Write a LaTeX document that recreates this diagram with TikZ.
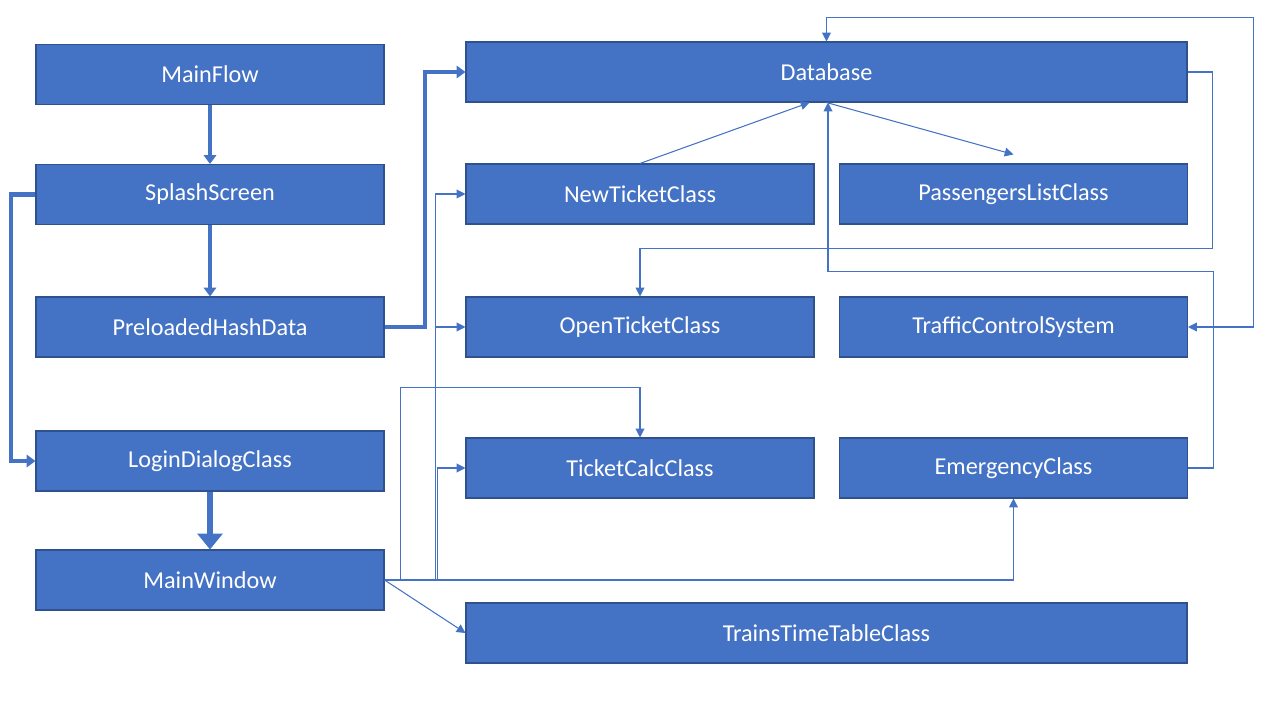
\documentclass[tikz,border=0pt]{standalone}
\usepackage{fontspec}
\setmainfont{Carlito}
\usepackage{xcolor}
\usepackage{tikz}
\usetikzlibrary{arrows.meta}

\definecolor{boxblue}{HTML}{4472C4}
\definecolor{boxedge}{HTML}{2F528F}

\begin{document}
\begin{tikzpicture}[
        box/.style={rectangle, draw=boxedge, line width=0.6pt, fill=boxblue, text=white, minimum width=6.96cm, minimum height=1.2cm, font=\fontsize{13.8}{16}\selectfont},
        widebox/.style={box, minimum width=14.42cm},
        arrow/.style={-{Triangle[length=5pt,width=7pt]}, boxblue, line width=2.3pt},
        bigarrow/.style={-{Triangle[length=9pt,width=14pt]}, boxblue, line width=3.6pt},
        link/.style={-{Triangle[length=5pt,width=5pt]}, boxblue, line width=0.6pt}
    ]
        \useasboundingbox (0,0) rectangle (25.6,14.4);

        % Start-up chain
        \node[box] (mainflow) at (4.2,12.91) {MainFlow};
        \node[box] (splash) at (4.2,10.51) {SplashScreen};
        \node[box] (preload) at (4.2,7.86) {PreloadedHashData};
        \node[box] (login) at (4.2,5.18) {LoginDialogClass};
        \node[box] (mainwin) at (4.2,2.8) {MainWindow};

        % Data
        \node[widebox] (db) at (16.53,12.96) {Database};

        % Classes
        \node[box] (newticket) at (12.8,10.52) {NewTicketClass};
        \node[box] (passengers) at (20.27,10.52) {PassengersListClass};
        \node[box] (openticket) at (12.8,7.86) {OpenTicketClass};
        \node[box] (traffic) at (20.27,7.86) {TrafficControlSystem};
        \node[box] (ticketcalc) at (12.8,5.04) {TicketCalcClass};
        \node[box] (emergency) at (20.27,5.04) {EmergencyClass};
        \node[widebox] (trains) at (16.53,1.74) {TrainsTimeTableClass};

        % Thick arrows
        \draw[arrow] (mainflow) -- (splash);
        \draw[arrow] (splash) -- (preload);
        \draw[arrow] (splash.west) -- ++(-0.48,0) |- (login.west);
        \draw[arrow] (preload.east) -- ++(0.8,0) |- (db.west);
        \draw[bigarrow] (login) -- (mainwin);

        % Database links
        \draw[link] (newticket.north) -- ([xshift=-0.34cm]db.south);
        \draw[link] (db.south) -- ([yshift=0.18cm]passengers.north);
        \draw[link] (db.east) -- ++(0.5,0) |- ([yshift=0.96cm]openticket.north) -- (openticket.north);
        \draw[link] (emergency.east) -- ++(0.5,0) |- ([xshift=0.03cm,yshift=-3.38cm]db.south) -- ([xshift=0.03cm]db.south);
        \draw[link, {Triangle[length=5pt,width=5pt]}-{Triangle[length=5pt,width=5pt]}] (traffic.east) -- ++(1.3,0) |- ([yshift=0.48cm]db.north) -- (db.north);

        % MainWindow links
        \draw[link] (mainwin.east) -| ([xshift=-0.6cm]newticket.west) -- (newticket.west);
        \draw[link] (mainwin.east) -| ([xshift=-0.6cm]openticket.west) -- (openticket.west);
        \draw[link] (mainwin.east) -| ([xshift=-0.56cm]ticketcalc.west) -- (ticketcalc.west);
        \draw[link] (mainwin.east) -- ++(0.32,0) |- ([yshift=1cm]ticketcalc.north) -- (ticketcalc.north);
        \draw[link] (mainwin.east) -| (emergency.south);
        \draw[link] (mainwin.east) -- (trains.west);
    \end{tikzpicture}
\end{document}
